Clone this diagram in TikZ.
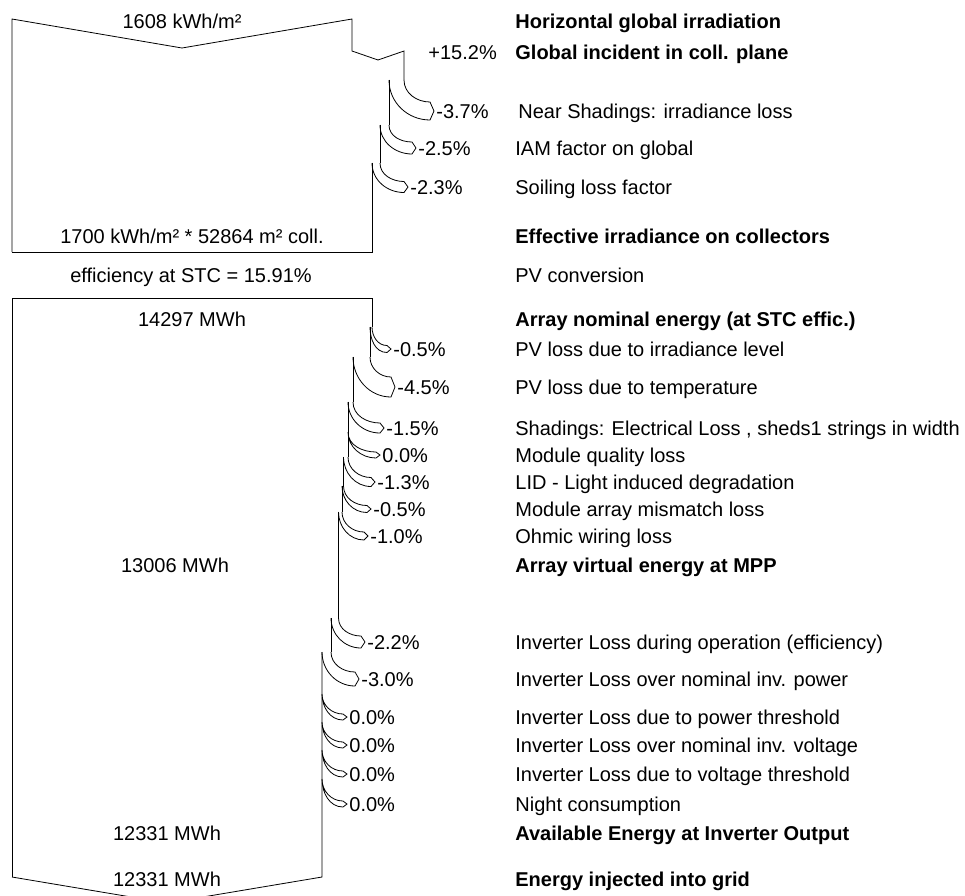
\documentclass[tikz,border=0pt]{standalone}
\usepackage{fontspec}
\setmainfont{Liberation Sans}
\usetikzlibrary{calc}
\tikzset{
  txt/.style={font=\fontsize{20}{24}\selectfont, inner sep=0pt, text height=14pt, text depth=0pt},
  lbl/.style={txt, anchor=west},
  lblb/.style={lbl, font=\fontsize{20}{24}\selectfont\bfseries},
}
\newcommand{\lossarrow}[5]{%
  \draw let \p1=(#5.west) in
    (#1,#3) to[out=-90,in=180] (\x1-6pt,\y1+#4pt) -- (\x1-2pt,\y1)
    -- (\x1-6pt,\y1-#4pt) to[out=180,in=-90] (#2,#3);}
\begin{document}
\begin{tikzpicture}[x=1pt,y=-1pt,line width=0.8pt]
\clip (0,0) rectangle (965,895);
\node[txt] (hgiv) at (182,21) {1608 kWh/m²};
\node[lblb] (hgi) at (515,21) {Horizontal global irradiation};
\node[lbl] (gain) at (428,52) {+15.2\%};
\node[lblb] (gic) at (515,52) {Global incident in coll. plane};
\node[lbl] (p1) at (436,111) {-3.7\%};
\node[lbl] (nsh) at (518,111) {Near Shadings: irradiance loss};
\node[lbl] (p2) at (418,148) {-2.5\%};
\node[lbl] (iam) at (515,148) {IAM factor on global};
\node[lbl] (p3) at (410,187) {-2.3\%};
\node[lbl] (soil) at (515,187) {Soiling loss factor};
\node[txt] (effv) at (192,236) {1700 kWh/m² * 52864 m² coll.};
\node[lblb] (eff) at (515,236) {Effective irradiance on collectors};
\node[txt] (stc) at (191,275) {efficiency at STC = 15.91\%};
\node[lbl] (conv) at (515,275) {PV conversion};
\node[txt] (nomv) at (192,319) {14297 MWh};
\node[lblb] (nom) at (515,319) {Array nominal energy (at STC effic.)};
\node[lbl] (p4) at (393,349) {-0.5\%};
\node[lbl] (irr) at (515,349) {PV loss due to irradiance level};
\node[lbl] (p5) at (397,387) {-4.5\%};
\node[lbl] (temp) at (515,387) {PV loss due to temperature};
\node[lbl] (p6) at (386,428) {-1.5\%};
\node[lbl] (shel) at (515,428) {Shadings: Electrical Loss , sheds1 strings in width};
\node[lbl] (p7) at (382,455) {0.0\%};
\node[lbl] (qual) at (515,455) {Module quality loss};
\node[lbl] (p8) at (377,482) {-1.3\%};
\node[lbl] (lid) at (515,482) {LID - Light induced degradation};
\node[lbl] (p9) at (373,509) {-0.5\%};
\node[lbl] (mism) at (515,509) {Module array mismatch loss};
\node[lbl] (p10) at (370,536) {-1.0\%};
\node[lbl] (ohm) at (515,536) {Ohmic wiring loss};
\node[txt] (mppv) at (175,565) {13006 MWh};
\node[lblb] (mpp) at (515,565) {Array virtual energy at MPP};
\node[lbl] (p11) at (367,642) {-2.2\%};
\node[lbl] (invop) at (515,642) {Inverter Loss during operation (efficiency)};
\node[lbl] (p12) at (361,679) {-3.0\%};
\node[lbl] (invp) at (515,679) {Inverter Loss over nominal inv. power};
\node[lbl] (p13) at (349,717) {0.0\%};
\node[lbl] (invpt) at (515,717) {Inverter Loss due to power threshold};
\node[lbl] (p14) at (349,745) {0.0\%};
\node[lbl] (invv) at (515,745) {Inverter Loss over nominal inv. voltage};
\node[lbl] (p15) at (349,774) {0.0\%};
\node[lbl] (invvt) at (515,774) {Inverter Loss due to voltage threshold};
\node[lbl] (p16) at (349,804) {0.0\%};
\node[lbl] (night) at (515,804) {Night consumption};
\node[txt] (outv) at (167,833) {12331 MWh};
\node[lblb] (out) at (515,833) {Available Energy at Inverter Output};
\node[txt] (gridv) at (167,879) {12331 MWh};
\node[lblb] (grid) at (515,879) {Energy injected into grid};
\draw (12,252) -- (12,19) -- (182,48) -- (352,19) -- (352,51) -- (378,60) -- (404,51) -- (404,80);
\draw (389,80) -- (389,125);
\draw (380,125) -- (380,163);
\draw (372,163) -- (372,252) -- (12,252);
\draw (12,877) -- (12,298) -- (372,298) -- (372,327);
\draw (370,327) -- (370,357);
\draw (353,357) -- (353,402);
\draw (348,402) -- (348,457);
\draw (343.5,457) -- (343.5,486);
\draw (342,486) -- (342,512);
\draw (338.5,512) -- (338.5,618);
\draw (331,618) -- (331,652);
\draw (322,652) -- (322,877) -- (167,903) -- (12,877);
\lossarrow{404}{389}{80}{9}{p1}
\lossarrow{389}{380}{125}{6}{p2}
\lossarrow{380}{372}{163}{5.5}{p3}
\lossarrow{372}{370}{327}{3.5}{p4}
\lossarrow{370}{353}{357}{10}{p5}
\lossarrow{353}{348}{402}{5}{p6}
\lossarrow{348}{348}{432}{3}{p7}
\lossarrow{348}{343.5}{457}{4.5}{p8}
\lossarrow{343.5}{342}{486}{3.5}{p9}
\lossarrow{342}{338.5}{512}{4}{p10}
\lossarrow{338.5}{331}{618}{6}{p11}
\lossarrow{331}{322}{652}{7}{p12}
\lossarrow{322}{322}{694}{3}{p13}
\lossarrow{322}{322}{722}{3}{p14}
\lossarrow{322}{322}{750}{3}{p15}
\lossarrow{322}{322}{779}{3}{p16}
\end{tikzpicture}
\end{document}
